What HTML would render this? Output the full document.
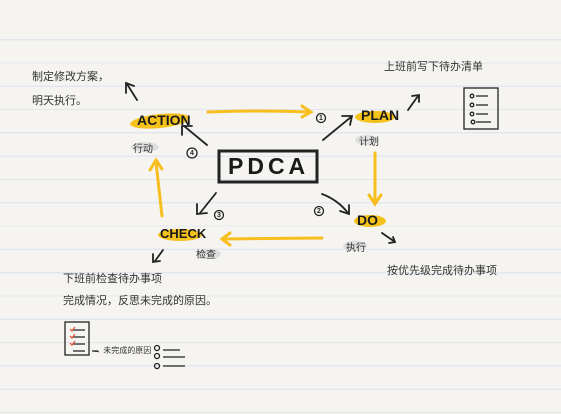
<!DOCTYPE html>
<html><head><meta charset="utf-8"><style>
html,body{margin:0;padding:0}
body{width:561px;height:414px;overflow:hidden;background:#f5f4f0;position:relative;
background-image:repeating-linear-gradient(to bottom,transparent 0,transparent 22px,#e2e7ee 22px,#e2e7ee 23.3px);background-position:0 17px;
font-family:"Liberation Sans","Noto Sans CJK SC",sans-serif;color:#222}
.t{position:absolute;white-space:nowrap;font-size:11px;color:#333}
.k{position:absolute;font-weight:bold;font-size:14px;color:#1a1a1a;letter-spacing:0}
.n{position:absolute;font-size:7px;font-weight:bold;width:9px;text-align:center;line-height:9px}
</style></head><body>
<svg width="561" height="414" style="position:absolute;left:0;top:0">
<g fill="#f5c21b">
<ellipse cx="160" cy="121" rx="30" ry="7" transform="rotate(-6 160 121)"/>
<ellipse cx="375" cy="117" rx="20" ry="6"/>
<ellipse cx="370" cy="221" rx="16" ry="6"/>
<ellipse cx="180" cy="235" rx="22" ry="6"/>
</g>
<g fill="#dedede"><ellipse cx="145" cy="147" rx="14" ry="5"/><ellipse cx="367" cy="140" rx="12" ry="5"/><ellipse cx="355" cy="246" rx="12" ry="5"/><ellipse cx="209" cy="254" rx="12" ry="5"/></g>
<g stroke="#f7be1e" stroke-width="3" fill="none" stroke-linecap="round">
<path d="M208 112 Q260 110 310 112"/><path d="M302 106 L311 112 L302 117"/>
<path d="M375 153 L375 203"/><path d="M369 195 L375 204 L381 195"/>
<path d="M322 238 L222 239"/><path d="M230 233 L222 239 L230 245"/>
<path d="M162 216 L156 162"/><path d="M150 170 L156 160 L162 169"/>
</g>
<rect x="219" y="151" width="98" height="31" fill="none" stroke="#222" stroke-width="3"/>
<g stroke="#222" stroke-width="1.8" fill="none" stroke-linecap="round">
<path d="M323 140 L351 117"/><path d="M342 116 L352 116 L350 125"/>
<path d="M322 194 Q338 200 348 213"/><path d="M340 211 L349 214 L349 205"/>
<path d="M207 145 L184 126"/><path d="M182 135 L182 126 L192 126"/>
<path d="M216 193 L200 213"/><path d="M197 204 L197 214 L207 213"/>
<path d="M137 100 L127 84"/><path d="M126 93 L126 83 L134 86"/>
<path d="M408 110 L418 96"/><path d="M412 96 L419 95 L419 102"/>
<path d="M382 233 Q392 240 394 241"/><path d="M389 243 L395 242 L393 237"/>
<path d="M163 250 L155 261"/><path d="M153 254 L153 262 L160 261"/>
</g>
<g stroke="#222" stroke-width="1.3" fill="none">
<circle cx="321" cy="118" r="4.5"/><circle cx="319" cy="211" r="4.5"/><circle cx="219" cy="215" r="4.5"/><circle cx="192" cy="153" r="5"/>
<rect x="464" y="88" width="34" height="41"/>
<circle cx="472" cy="96" r="1.8"/><circle cx="472" cy="105" r="1.8"/><circle cx="472" cy="114" r="1.8"/><circle cx="473" cy="122" r="1.8"/>
<path d="M476 96 H488 M476 105 H488 M476 114 H488 M476 122 H491"/>
<rect x="65" y="322" width="24" height="33"/>
<path d="M73 330 H85 M73 337 H85 M73 344 H85 M73 351 H85 M92 351 H98"/>
<circle cx="157" cy="348" r="2.5"/><circle cx="157" cy="356" r="2.5"/><circle cx="157" cy="366" r="2.5"/>
<path d="M163 350 H180 M163 357 H185 M163 366 H185"/>
</g>
<g stroke="#e8553a" stroke-width="1.3" fill="none"><path d="M70 329 l2 2 l3 -4 M70 336 l2 2 l3 -4 M70 343 l2 2 l3 -4"/></g>
</svg>
<div class="n" style="left:316.5px;top:113.5px">1</div>
<div class="n" style="left:314.5px;top:206.5px">2</div>
<div class="n" style="left:214.5px;top:210.5px">3</div>
<div class="n" style="left:187.5px;top:148.5px">4</div>
<div class="k" style="left:137px;top:112px">ACTION</div>
<div class="k" style="left:361px;top:107px">PLAN</div>
<div class="k" style="left:357px;top:212px">DO</div>
<div class="k" style="left:160px;top:226px;font-size:13px">CHECK</div>
<div class="k" style="left:228px;top:153px;font-size:23px;letter-spacing:4px">PDCA</div>
<div class="t" style="left:133px;top:140px;font-size:10px">行动</div>
<div class="t" style="left:359px;top:133px;font-size:10px">计划</div>
<div class="t" style="left:346px;top:239px;font-size:10px">执行</div>
<div class="t" style="left:196px;top:246px;font-size:10px">检查</div>
<div class="t" style="left:32px;top:68px">制定修改方案，</div>
<div class="t" style="left:32px;top:92px">明天执行。</div>
<div class="t" style="left:384px;top:58px">上班前写下待办清单</div>
<div class="t" style="left:387px;top:262px">按优先级完成待办事项</div>
<div class="t" style="left:63px;top:270px">下班前检查待办事项</div>
<div class="t" style="left:63px;top:292px">完成情况，反思未完成的原因。</div>
<div class="t" style="left:93px;top:345px;font-size:8px">→ 未完成的原因</div>
</body></html>
